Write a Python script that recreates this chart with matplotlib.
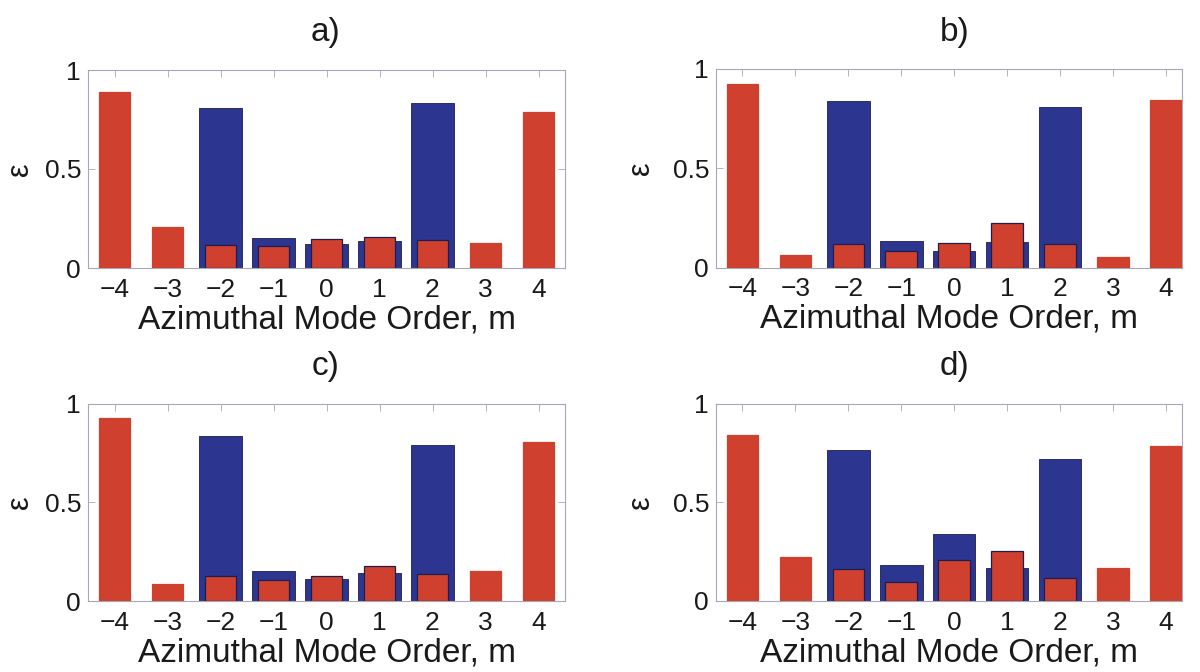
import numpy as np
import matplotlib
matplotlib.use("Agg")
import matplotlib.pyplot as plt

plt.rcParams['font.family'] = ['Liberation Sans', 'DejaVu Sans']

# azimuthal mode orders
modes = np.array([-4, -3, -2, -1, 0, 1, 2, 3, 4])

# blue = incident, red = scattered, one pair per panel
blue_a = [0, 0, 0.808, 0.150, 0.123, 0.137, 0.831, 0, 0]
red_a = [0.887, 0.207, 0.118, 0.113, 0.145, 0.155, 0.142, 0.128, 0.788]

blue_b = [0, 0, 0.837, 0.134, 0.081, 0.128, 0.809, 0, 0]
red_b = [0.926, 0.062, 0.117, 0.081, 0.122, 0.225, 0.119, 0.052, 0.844]

blue_c = [0, 0, 0.837, 0.153, 0.113, 0.143, 0.788, 0, 0]
red_c = [0.929, 0.086, 0.128, 0.106, 0.130, 0.178, 0.136, 0.152, 0.805]

blue_d = [0, 0, 0.767, 0.180, 0.341, 0.167, 0.720, 0, 0]
red_d = [0.838, 0.224, 0.162, 0.096, 0.209, 0.253, 0.118, 0.169, 0.786]

titles = ['a)', 'b)', 'c)', 'd)']
xlabel = 'Azimuthal Mode Order, m'
ylabel = '\u03b5'

BLUE = '#2c358f'
RED = '#d0402f'
EDGE = '#1c1f4a'
SPINE = '#a4a8b8'

W, H = 1200, 672
fig = plt.figure(figsize=(W / 100, H / 100), dpi=100)

# axes boxes in pixels: left, top, right, bottom, right x-limit, ylabel offset
boxes = [
    (88, 70, 565, 268, 4.5, 53),
    (716, 69, 1182, 267.5, 4.3, 60),
    (88, 403.5, 565, 601.3, 4.5, 53),
    (716, 403.5, 1182, 601, 4.3, 60),
]
title_pos = [(326, 33), (955, 33), (326, 367), (955, 367)]

data = [(blue_a, red_a), (blue_b, red_b), (blue_c, red_c), (blue_d, red_d)]

for k, ((blue, red), (l, t, r, b, xmax, yoff)) in enumerate(zip(data, boxes)):
    ax = fig.add_axes([l / W, 1 - b / H, (r - l) / W, (b - t) / H])
    blue = np.array(blue)
    red = np.array(red)

    ax.bar(modes, blue, width=0.8, color=BLUE, edgecolor=EDGE, linewidth=0.6, zorder=2)
    red_edges = [EDGE if bv > 0 else RED for bv in blue]
    ax.bar(modes, red, width=0.6, color=RED, edgecolor=red_edges, linewidth=0.9, zorder=3)

    ax.set_xlim(-4.5, xmax)
    ax.set_ylim(0, 1)
    ax.set_xticks(modes)
    ax.set_xticklabels([str(m).replace('-', '\u2212') for m in modes])
    ax.set_yticks([0, 0.5, 1])
    ax.set_yticklabels(['0', '0.5', '1'])
    ax.tick_params(direction='in', length=5, width=0.6, color=SPINE,
                   top=True, right=True, labelsize=19, labelcolor='#1a1a1a')
    ax.tick_params(axis='x', pad=7)
    ax.tick_params(axis='y', pad=5)
    for s in ax.spines.values():
        s.set_color(SPINE)
        s.set_linewidth(0.8)

    ax.set_xlabel(xlabel, fontsize=24, color='#1a1a1a', labelpad=2)
    ax.set_ylabel(ylabel, fontsize=22, color='#1a1a1a')
    ax.yaxis.set_label_coords(-yoff / (r - l), 0.5)

    tx, ty = title_pos[k]
    fig.text(tx / W, 1 - ty / H, titles[k], fontsize=24, color='#1a1a1a',
             ha='center', va='center')

fig.savefig('out.png', dpi=100, facecolor='white')
